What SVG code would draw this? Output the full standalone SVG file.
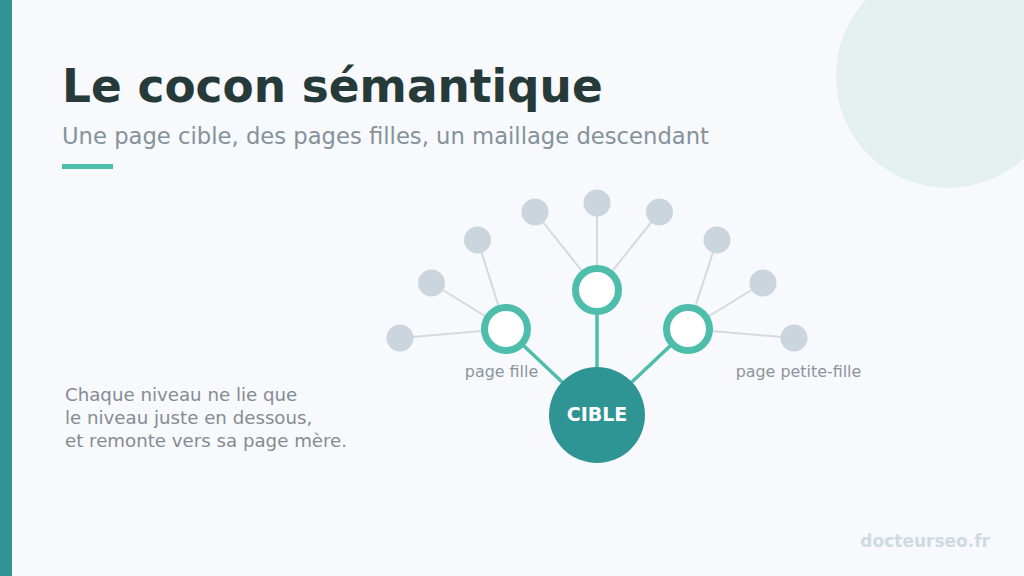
<svg xmlns="http://www.w3.org/2000/svg" width="1024" height="576" viewBox="0 0 1024 576">
<style>
.f{font-family:"DejaVu Sans","Liberation Sans",sans-serif}
.gl{stroke:#d3dae0;stroke-width:2;fill:none}
.tl{stroke:#4fbdab;stroke-width:3.5;fill:none}
.gc{fill:#cbd5dd}
.ring{fill:#ffffff;stroke:#4fbdab;stroke-width:7}
.lbl{font-size:15.9px;fill:#8c959b;text-anchor:middle}
.para{font-size:18.2px;fill:#858c91}
</style>
<rect width="1024" height="576" fill="#f7f9fc"/>
<circle cx="948" cy="76" r="112" fill="#e4f0f0"/>
<rect x="0" y="0" width="12" height="576" fill="#2f9494"/>
<text class="f" x="62" y="102" font-size="45.4" font-weight="bold" fill="#263a3a">Le cocon sémantique</text>
<text class="f" x="62" y="144" font-size="22.7" fill="#86929a">Une page cible, des pages filles, un maillage descendant</text>
<rect x="62" y="164" width="51" height="5" fill="#4fbdab"/>
<g id="connectors">
<line class="gl" x1="506" y1="329" x2="400" y2="338"/>
<line class="gl" x1="506" y1="329" x2="431.5" y2="283"/>
<line class="gl" x1="506" y1="329" x2="477.5" y2="240"/>
<line class="gl" x1="597" y1="290" x2="535" y2="212"/>
<line class="gl" x1="597" y1="290" x2="597" y2="203"/>
<line class="gl" x1="597" y1="290" x2="659.5" y2="212"/>
<line class="gl" x1="688" y1="329" x2="717" y2="240"/>
<line class="gl" x1="688" y1="329" x2="763" y2="283"/>
<line class="gl" x1="688" y1="329" x2="794" y2="338"/>
<line class="tl" x1="597" y1="415" x2="506" y2="329"/>
<line class="tl" x1="597" y1="415" x2="597" y2="290"/>
<line class="tl" x1="597" y1="415" x2="688" y2="329"/>
</g>
<g id="gc1"><circle class="gc" cx="400" cy="338" r="13.5"/></g>
<g id="gc2"><circle class="gc" cx="431.5" cy="283" r="13.5"/></g>
<g id="gc3"><circle class="gc" cx="477.5" cy="240" r="13.5"/></g>
<g id="gc4"><circle class="gc" cx="535" cy="212" r="13.5"/></g>
<g id="gc5"><circle class="gc" cx="597" cy="203" r="13.5"/></g>
<g id="gc6"><circle class="gc" cx="659.5" cy="212" r="13.5"/></g>
<g id="gc7"><circle class="gc" cx="717" cy="240" r="13.5"/></g>
<g id="gc8"><circle class="gc" cx="763" cy="283" r="13.5"/></g>
<g id="gc9"><circle class="gc" cx="794" cy="338" r="13.5"/></g>
<g id="fille-left"><circle class="ring" cx="506" cy="329" r="21.5"/></g>
<g id="fille-mid"><circle class="ring" cx="597" cy="290" r="21.5"/></g>
<g id="fille-right"><circle class="ring" cx="688" cy="329" r="21.5"/></g>
<g id="cible">
<circle cx="597" cy="415" r="48" fill="#2f9494"/>
<text class="f" x="597" y="421" font-size="19" font-weight="bold" fill="#ffffff" text-anchor="middle">CIBLE</text>
</g>
<text class="f lbl" x="501.5" y="377">page fille</text>
<text class="f lbl" x="798.5" y="377">page petite-fille</text>
<g class="f para">
<text x="65" y="401">Chaque niveau ne lie que</text>
<text x="65" y="424">le niveau juste en dessous,</text>
<text x="65" y="447">et remonte vers sa page mère.</text>
</g>
<text class="f" x="990" y="547" font-size="17" font-weight="bold" fill="#d0dae1" text-anchor="end">docteurseo.fr</text>
</svg>
